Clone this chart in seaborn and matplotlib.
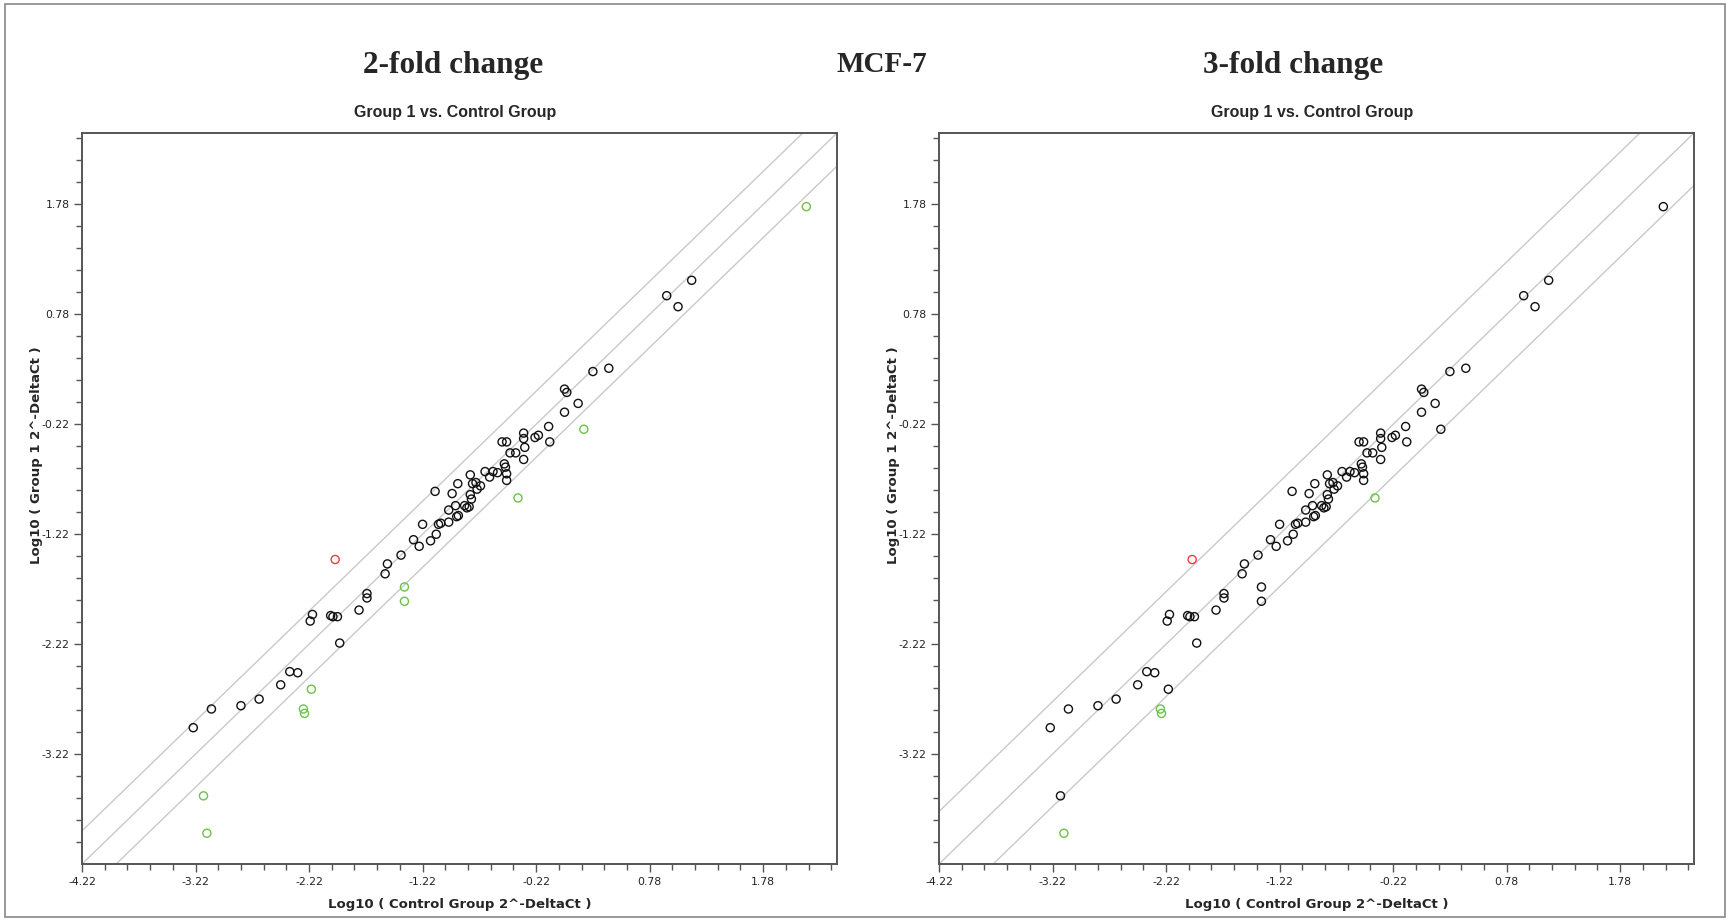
import numpy as np
import pandas as pd
import matplotlib
matplotlib.use("Agg")
import matplotlib.pyplot as plt
import seaborn as sns
from matplotlib.ticker import FixedLocator
from matplotlib.patches import Rectangle

# ---------------- data (log10 2^-DeltaCt) ----------------
control_log = [
    -3.24, -3.08, -2.82, -2.66, -2.47, -2.39, -2.32, -2.21, -2.19, -2.03,
    -2.01, -1.97, -1.95, -1.78, -1.71, -1.71, -1.55, -1.53, -1.41, -1.30,
    -1.25, -1.22, -1.15, -1.10, -1.11, -1.08, -1.06, -0.99, -0.99, -0.96,
    -0.93, -0.92, -0.905, -0.91, -0.85, -0.83, -0.81, -0.80, -0.79, -0.80,
    -0.78, -0.75, -0.74, -0.71, -0.67, -0.63, -0.60, -0.56, -0.52, -0.48,
    -0.50, -0.49, -0.48, -0.48, -0.45, -0.40, -0.33, -0.33, -0.32, -0.33,
    -0.23, -0.20, -0.11, -0.10, 0.03, 0.05, 0.03, 0.15, 0.28, 0.42,
    0.93, 1.03, 1.15,
    -1.38, -1.38, -2.20, -2.27, -2.26, -3.15, -3.12, 0.20, -0.38, 2.16,
    -1.99,
]
group1_log = [
    -2.98, -2.81, -2.78, -2.72, -2.59, -2.47, -2.48, -2.01, -1.95, -1.96,
    -1.97, -1.97, -2.21, -1.91, -1.76, -1.80, -1.58, -1.49, -1.41, -1.27,
    -1.33, -1.13, -1.28, -1.22, -0.83, -1.13, -1.12, -1.11, -1.00, -0.85,
    -0.96, -1.06, -1.05, -0.76, -0.96, -0.98, -0.97, -0.86, -0.90, -0.68,
    -0.76, -0.75, -0.81, -0.78, -0.65, -0.70, -0.65, -0.66, -0.38, -0.38,
    -0.58, -0.61, -0.67, -0.73, -0.48, -0.48, -0.30, -0.35, -0.43, -0.54,
    -0.34, -0.32, -0.24, -0.38, 0.10, 0.07, -0.11, -0.03, 0.26, 0.29,
    0.95, 0.85, 1.09,
    -1.70, -1.83, -2.63, -2.81, -2.85, -3.60, -3.94, -0.265, -0.89, 1.76,
    -1.45,
]
fold_cutoffs = [2, 3]
panel_titles = ["2-fold change", "3-fold change"]
sample_title = "MCF-7"
subplot_title = "Group 1 vs. Control Group"
x_label = "Log10 ( Control Group 2^-DeltaCt )"
y_label = "Log10 ( Group 1 2^-DeltaCt )"
tick_values = [-4.22, -3.22, -2.22, -1.22, -0.22, 0.78, 1.78]
y_tick_values = [-3.22, -2.22, -1.22, -0.22, 0.78, 1.78]

df = pd.DataFrame({"control": control_log, "group1": group1_log})

W, H = 1729, 921
fig = plt.figure(figsize=(W / 100, H / 100), dpi=100)
sns.set_style("white")
plt.rcParams["font.family"] = ["DejaVu Sans"]

palette = {"up": "#ee3a3a", "down": "#6cc24a", "none": "#111111"}

def fx(px):
    return px / W

def fy(py):
    return 1 - py / H

axes_px = [(82, 837), (939, 1694)]
title_x = [453, 1293]
top_px, bot_px = 133, 864
lim = (-4.22, 2.43)

for i, (fold, (l, r)) in enumerate(zip(fold_cutoffs, axes_px)):
    ax = fig.add_axes([fx(l), fy(bot_px), fx(r - l), (bot_px - top_px) / H])
    off = np.log10(fold)
    diff = df["group1"] - df["control"]
    reg = np.where(diff > off, "up", np.where(diff < -off, "down", "none"))
    d = df.assign(reg=reg)
    for o in (-off, 0, off):
        ax.axline((0, o), slope=1, color="#c9c9c9", lw=1.0, zorder=1)
    sns.scatterplot(data=d, x="control", y="group1", hue="reg", palette=palette,
                    s=34, linewidth=1.0, legend=False, ax=ax, zorder=3)
    coll = ax.collections[-1]
    fc = coll.get_facecolors()
    coll.set_edgecolors(fc)
    coll.set_facecolors("none")
    ax.set_xlim(lim)
    ax.set_ylim(lim)
    ax.xaxis.set_major_locator(FixedLocator(tick_values))
    ax.yaxis.set_major_locator(FixedLocator(y_tick_values))
    minors = np.round(np.arange(-4.02, 2.43, 0.2), 2)
    ax.xaxis.set_minor_locator(FixedLocator(minors))
    ax.yaxis.set_minor_locator(FixedLocator(minors))
    ax.set_xticklabels([f"{v:.2f}" for v in tick_values])
    ax.set_yticklabels([f"{v:.2f}" for v in y_tick_values])
    ax.tick_params(axis="both", which="major", direction="out", length=6, width=1,
                   color="#555555", labelsize=7.8, labelcolor="#222222", pad=3,
                   bottom=True, left=True)
    ax.tick_params(axis="both", which="minor", direction="out", length=4, width=1,
                   color="#555555", bottom=True, left=True)
    for sp in ax.spines.values():
        sp.set_color("#555555")
        sp.set_linewidth(1.4)
    ax.set_xlabel(x_label, fontsize=9.5, fontweight="bold", labelpad=8)
    ax.set_ylabel(y_label, fontsize=9.5, fontweight="bold", labelpad=2)
    ax.yaxis.set_label_coords(-0.052, (bot_px - 455) / (bot_px - top_px))
    ax.grid(False)
    fig.text(fx(title_x[i]), fy(65), panel_titles[i], ha="center", va="center",
             family=["Liberation Serif"], fontweight="bold", fontsize=22.5)
    fig.text(fx((l + r) / 2 - 4), fy(112), subplot_title, ha="center", va="center",
             family=["Liberation Sans Narrow", "Liberation Sans"], fontweight="bold",
             fontsize=11.5)

fig.text(fx(882), fy(65), sample_title, ha="center", va="center",
         family=["Liberation Serif"], fontweight="bold", fontsize=21)

fig.patches.append(Rectangle((fx(5), fy(917)), fx(1720), (917 - 4) / H,
                             transform=fig.transFigure, fill=False,
                             edgecolor="#888888", lw=1.2))

fig.savefig("out.png", dpi=100)
